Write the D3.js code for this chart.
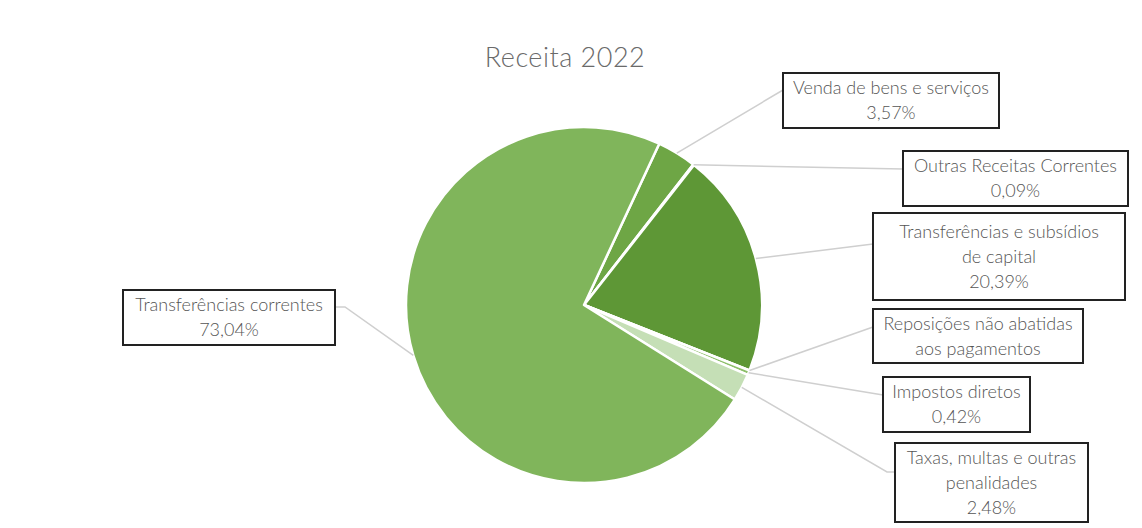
<!DOCTYPE html>
<html lang="pt">
<head>
<meta charset="utf-8">
<title>Receita 2022</title>
<script src="https://cdn.jsdelivr.net/npm/d3@7"></script>
<style>
  body { margin: 0; background: #fff; }
  text { font-family: Lato, "Open Sans", sans-serif; }
</style>
</head>
<body>
<svg width="1142" height="528" id="mainsvg"></svg>
<script>
  // dados (ordem dos ponteiros do relógio)
  const categories = [
    'Venda de bens e serviços',
    'Outras Receitas Correntes',
    'Transferências e subsídios de capital',
    'Reposições não abatidas aos pagamentos',
    'Impostos diretos',
    'Taxas, multas e outras penalidades',
    'Transferências correntes'
  ];
  const values = [3.57, 0.09, 20.39, 0.01, 0.42, 2.48, 73.04];
  const showValue = [true, true, true, false, true, true, true];
  const colors = ['#6ea645', '#79ad52', '#5e9736', '#a9cf92', '#8dbf6a', '#c5dfb6', '#80b55b'];

  // linhas de texto de cada rótulo
  const labelLines = [
    ['Venda de bens e serviços'],
    ['Outras Receitas Correntes'],
    ['Transferências e subsídios', 'de capital'],
    ['Reposições não abatidas', 'aos pagamentos'],
    ['Impostos diretos'],
    ['Taxas, multas e outras', 'penalidades'],
    ['Transferências correntes']
  ];
  // caixas dos rótulos: x, y, largura, altura, ponto de ligação
  const boxes = [
    { x: 783, y: 73, w: 216, h: 55, ax: 783, ay: 90 },
    { x: 903, y: 151, w: 225, h: 55, ax: 903, ay: 169 },
    { x: 873, y: 213, w: 252, h: 87, ax: 873, ay: 244 },
    { x: 873, y: 309, w: 210, h: 54, ax: 873, ay: 327 },
    { x: 883, y: 377, w: 147, h: 55, ax: 883, ay: 395 },
    { x: 895, y: 443, w: 193, h: 79, ax: 887, ay: 472 },
    { x: 123, y: 290, w: 212, h: 55, ax: 345, ay: 307 }
  ];

  const svg = d3.select('#mainsvg');
  const cx = 584, cy = 305, r = 178;
  const fmt = v => d3.format('.2f')(v).replace('.', ',') + '%';

  const data = categories.map((c, i) => ({ name: c, value: values[i], i }));

  const pie = d3.pie()
    .value(d => d.value)
    .sort(null)
    .startAngle(25 * Math.PI / 180)
    .endAngle(25 * Math.PI / 180 + 2 * Math.PI);
  const arcs = pie(data);
  const arc = d3.arc().innerRadius(0).outerRadius(r);

  svg.append('text').text('Receita 2022')
    .attr('x', 565).attr('y', 67)
    .attr('text-anchor', 'middle')
    .attr('font-size', 27)
    .attr('font-weight', 300)
    .attr('letter-spacing', 0.5)
    .attr('fill', '#6a6a6a');

  const g = svg.append('g').attr('transform', `translate(${cx}, ${cy})`);

  // linhas de ligação
  arcs.forEach(a => {
    const mid = (a.startAngle + a.endAngle) / 2;
    const px = cx + r * Math.sin(mid), py = cy - r * Math.cos(mid);
    const b = boxes[a.data.i];
    const pts = [[px, py], [b.ax, b.ay]];
    if (a.data.i === 6) pts.push([b.x + b.w, b.ay]);
    if (a.data.i === 5) pts.push([b.x, b.ay]);
    svg.append('polyline')
      .attr('points', pts.map(p => p.join(',')).join(' '))
      .attr('fill', 'none')
      .attr('stroke', '#cfcfcf')
      .attr('stroke-width', 1.5);
  });

  g.selectAll('path')
    .data(arcs)
    .join('path')
    .attr('d', arc)
    .attr('fill', d => colors[d.data.i])
    .attr('stroke', '#fff')
    .attr('stroke-width', 2.5)
    .attr('stroke-linejoin', 'round');

  // rótulos
  data.forEach((d, i) => {
    const b = boxes[i];
    const lines = labelLines[i].slice();
    if (showValue[i]) lines.push(fmt(d.value));
    const lg = svg.append('g');
    lg.append('rect')
      .attr('x', b.x).attr('y', b.y)
      .attr('width', b.w).attr('height', b.h)
      .attr('fill', '#fff')
      .attr('stroke', '#222')
      .attr('stroke-width', 2);
    const lh = 25;
    const y0 = b.y + b.h / 2 - (lines.length - 1) * lh / 2;
    lines.forEach((t, k) => {
      lg.append('text').text(t)
        .attr('x', b.x + b.w / 2)
        .attr('y', y0 + k * lh)
        .attr('dy', '0.35em')
        .attr('text-anchor', 'middle')
        .attr('font-size', 18)
        .attr('font-weight', 300)
        .attr('fill', '#555');
    });
  });
</script>
</body>
</html>
